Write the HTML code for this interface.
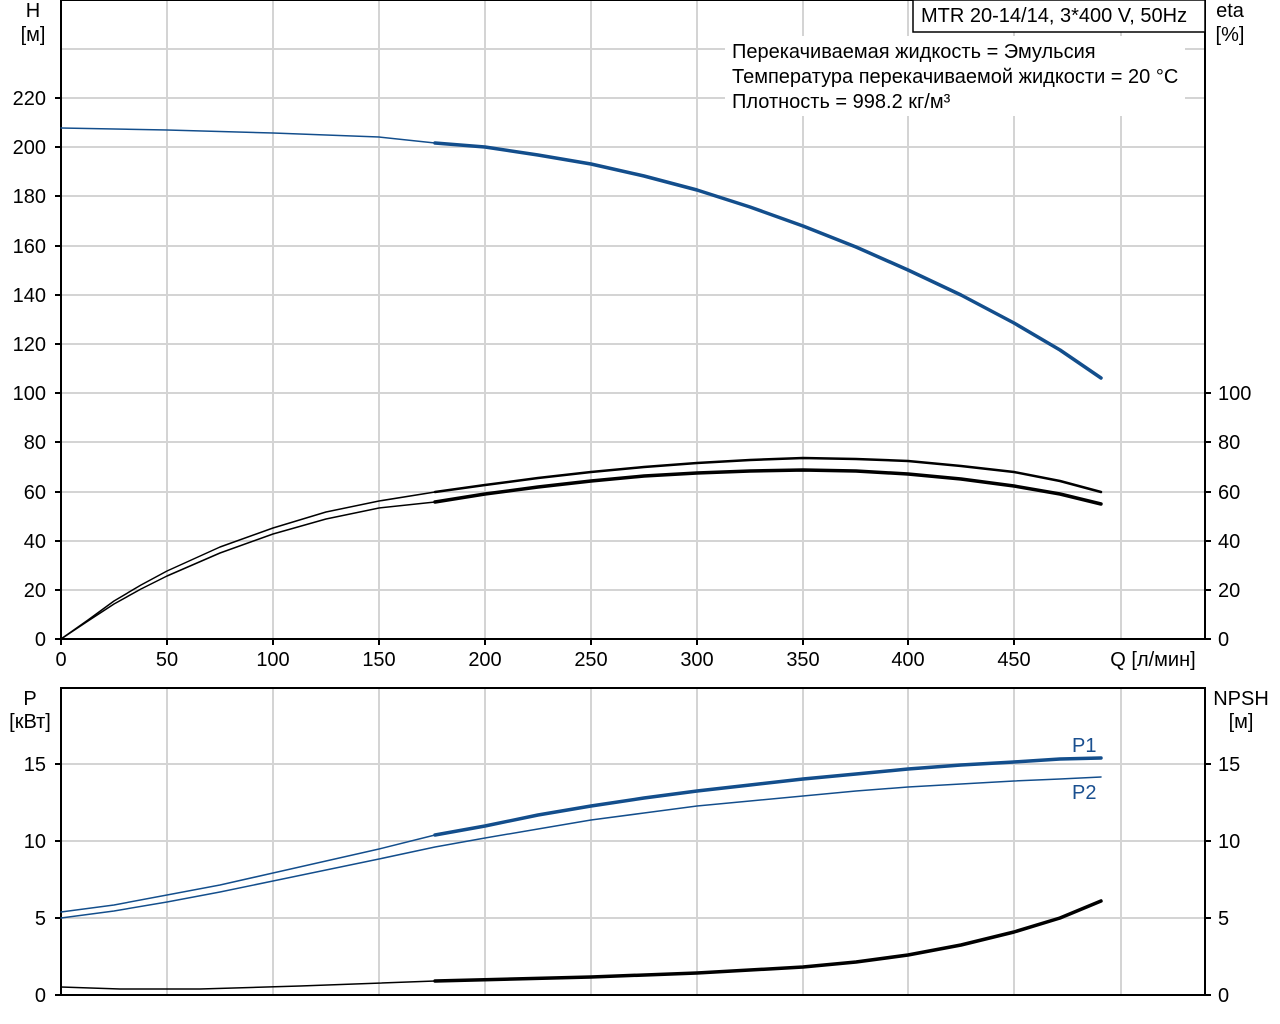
<!DOCTYPE html>
<html><head><meta charset="utf-8"><style>
html,body{margin:0;padding:0;background:#fff;width:1280px;height:1024px;overflow:hidden}
svg{display:block}
text{font-family:"Liberation Sans",sans-serif;font-size:20px;fill:#000}
</style></head><body>
<svg width="1280" height="1024" viewBox="0 0 1280 1024">
<g stroke="#d4d4d4" stroke-width="2">
<line x1="167" y1="0" x2="167" y2="639"/><line x1="273" y1="0" x2="273" y2="639"/><line x1="379" y1="0" x2="379" y2="639"/><line x1="485" y1="0" x2="485" y2="639"/><line x1="591" y1="0" x2="591" y2="639"/><line x1="697" y1="0" x2="697" y2="639"/><line x1="803" y1="0" x2="803" y2="639"/><line x1="908" y1="0" x2="908" y2="639"/><line x1="1014" y1="0" x2="1014" y2="639"/><line x1="1121" y1="0" x2="1121" y2="639"/>
<line x1="61" y1="49" x2="1205" y2="49"/><line x1="61" y1="98" x2="1205" y2="98"/><line x1="61" y1="147" x2="1205" y2="147"/><line x1="61" y1="196" x2="1205" y2="196"/><line x1="61" y1="246" x2="1205" y2="246"/><line x1="61" y1="295" x2="1205" y2="295"/><line x1="61" y1="344" x2="1205" y2="344"/><line x1="61" y1="393" x2="1205" y2="393"/><line x1="61" y1="442" x2="1205" y2="442"/><line x1="61" y1="492" x2="1205" y2="492"/><line x1="61" y1="541" x2="1205" y2="541"/><line x1="61" y1="590" x2="1205" y2="590"/>
<line x1="167" y1="688" x2="167" y2="995"/><line x1="273" y1="688" x2="273" y2="995"/><line x1="379" y1="688" x2="379" y2="995"/><line x1="485" y1="688" x2="485" y2="995"/><line x1="591" y1="688" x2="591" y2="995"/><line x1="697" y1="688" x2="697" y2="995"/><line x1="803" y1="688" x2="803" y2="995"/><line x1="908" y1="688" x2="908" y2="995"/><line x1="1014" y1="688" x2="1014" y2="995"/><line x1="1121" y1="688" x2="1121" y2="995"/>
<line x1="61" y1="764" x2="1205" y2="764"/><line x1="61" y1="841" x2="1205" y2="841"/><line x1="61" y1="918" x2="1205" y2="918"/>
</g>
<rect x="725" y="36" width="460" height="80" fill="#fff"/>
<g stroke="#000" stroke-width="2" fill="none">
<rect x="61" y="0" width="1144" height="639"/>
<rect x="61" y="688" width="1144" height="307"/>
<path d="M55 639H61M55 590H61M55 541H61M55 492H61M55 442H61M55 393H61M55 344H61M55 295H61M55 246H61M55 196H61M55 147H61M55 98H61M1205 639H1211M1205 590H1211M1205 541H1211M1205 492H1211M1205 442H1211M1205 393H1211M61 639V645M167 639V645M273 639V645M379 639V645M485 639V645M591 639V645M697 639V645M803 639V645M908 639V645M1014 639V645M55 995H61M55 918H61M55 841H61M55 764H61M1205 995H1211M1205 918H1211M1205 841H1211M1205 764H1211"/>
</g>
<rect x="913" y="0" width="292" height="32" fill="#fff" stroke="#000" stroke-width="1.5"/>
<text x="921" y="22">MTR 20-14/14, 3*400 V, 50Hz</text>
<text x="732" y="58">Перекачиваемая жидкость = Эмульсия</text>
<text x="732" y="83">Температура перекачиваемой жидкости = 20 °C</text>
<text x="732" y="108">Плотность = 998.2 кг/м³</text>
<g text-anchor="middle"><text x="33" y="17">H</text><text x="33" y="41">[м]</text><text x="1230" y="17">eta</text><text x="1230" y="41">[%]</text>
<text x="30" y="705">P</text><text x="30" y="728">[кВт]</text><text x="1241" y="705">NPSH</text><text x="1241" y="728">[м]</text>
<text x="61" y="666">0</text><text x="167" y="666">50</text><text x="273" y="666">100</text><text x="379" y="666">150</text><text x="485" y="666">200</text><text x="591" y="666">250</text><text x="697" y="666">300</text><text x="803" y="666">350</text><text x="908" y="666">400</text><text x="1014" y="666">450</text><text x="1153" y="666">Q [л/мин]</text></g>
<g text-anchor="end"><text x="46" y="646">0</text><text x="46" y="597">20</text><text x="46" y="548">40</text><text x="46" y="499">60</text><text x="46" y="449">80</text><text x="46" y="400">100</text><text x="46" y="351">120</text><text x="46" y="302">140</text><text x="46" y="253">160</text><text x="46" y="203">180</text><text x="46" y="154">200</text><text x="46" y="105">220</text>
<text x="46" y="1002">0</text><text x="46" y="925">5</text><text x="46" y="848">10</text><text x="46" y="771">15</text></g>
<g><text x="1218" y="646">0</text><text x="1218" y="597">20</text><text x="1218" y="548">40</text><text x="1218" y="499">60</text><text x="1218" y="449">80</text><text x="1218" y="400">100</text>
<text x="1218" y="1002">0</text><text x="1218" y="925">5</text><text x="1218" y="848">10</text><text x="1218" y="771">15</text></g>
<text x="1072" y="752" style="fill:#1a4f8f">P1</text><text x="1072" y="799" style="fill:#1a4f8f">P2</text>
<g fill="none" stroke-linejoin="round" stroke-linecap="round">
<polyline stroke="#134e8c" stroke-width="1.5" points="61,128 167,130 273,133 379,137 435,143"/>
<polyline stroke="#134e8c" stroke-width="3.5" points="435,143 485,147 538,155 591,164 644,176 697,190 750,207 803,226 856,247 908,270 961,295 1014,323 1060,350 1101,378"/>
<polyline stroke="#000" stroke-width="1.5" points="61,639 88,620 114,601 141,585 167,571 220,547 273,528 326,512 379,501 435,492"/>
<polyline stroke="#000" stroke-width="2.5" points="435,492 485,485 538,478 591,472 644,467 697,463 750,460 803,458 856,459 908,461 961,466 1014,472 1060,481 1101,492"/>
<polyline stroke="#000" stroke-width="1.5" points="61,639 88,621 114,604 141,589 167,576 220,553 273,534 326,519 379,508 435,502"/>
<polyline stroke="#000" stroke-width="3.5" points="435,502 485,494 538,487 591,481 644,476 697,473 750,471 803,470 856,471 908,474 961,479 1014,486 1060,494 1101,504"/>
<polyline stroke="#134e8c" stroke-width="1.5" points="61,912 114,905 167,895 220,885 273,873 326,861 379,849 435,835"/>
<polyline stroke="#134e8c" stroke-width="3.5" points="435,835 485,826 538,815 591,806 644,798 697,791 750,785 803,779 856,774 908,769 961,765 1014,762 1060,759 1101,758"/>
<polyline stroke="#134e8c" stroke-width="1.5" points="61,918 114,911 167,902 220,892 273,881 326,870 379,859 435,847 485,838 538,829 591,820 644,813 697,806 750,801 803,796 856,791 908,787 961,784 1014,781 1060,779 1101,777"/>
<polyline stroke="#000" stroke-width="1.5" points="61,987 120,989 200,989 300,986 435,981"/>
<polyline stroke="#000" stroke-width="3.5" points="435,981 591,977 697,973 803,967 856,962 908,955 961,945 1014,932 1060,918 1101,901"/>
</g>
</svg>
</body></html>
